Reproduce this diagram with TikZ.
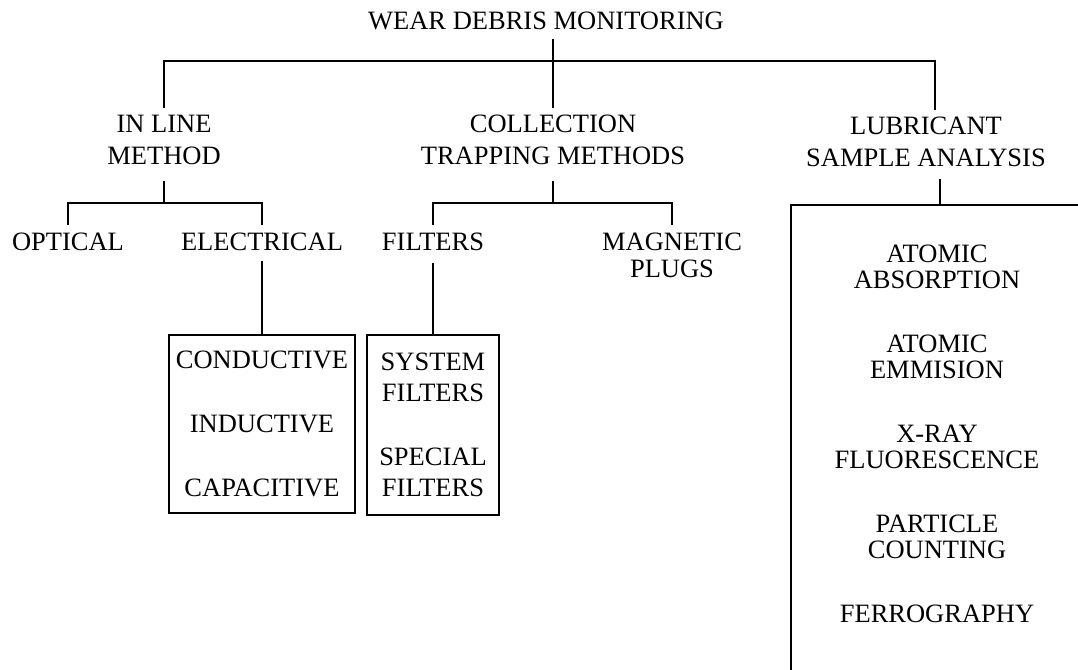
\documentclass[tikz,border=0pt]{standalone}
\usepackage{fontspec}
\setmainfont{Liberation Serif}
\begin{document}
\begin{tikzpicture}[x=1pt,y=-1pt,line width=2.8pt,
  lbl/.style={inner sep=0pt,outer sep=0pt,anchor=north,align=center,font=\fontsize{26.5}{32}\selectfont},
  boxnode/.style={draw,line width=2.8pt,inner sep=0pt,outer sep=0pt,anchor=north,align=center}]
\useasboundingbox (0,0) rectangle (1078,669);
% nodes
\node[lbl] (title) at (546,12) {WEAR DEBRIS MONITORING};
\node[lbl] (inline) at (164,115) {IN LINE\\METHOD};
\node[lbl] (collect) at (553,115) {COLLECTION\\TRAPPING METHODS};
\node[lbl] (lubric) at (926,117) {LUBRICANT\\SAMPLE ANALYSIS};
\node[lbl,font=\fontsize{26.5}{27}\selectfont] (optical) at (68,233) {OPTICAL};
\node[lbl,font=\fontsize{26.5}{27}\selectfont] (electrical) at (262,233) {ELECTRICAL};
\node[lbl,font=\fontsize{26.5}{27}\selectfont] (filters) at (433,233) {FILTERS};
\node[lbl,font=\fontsize{26.5}{27}\selectfont] (magnetic) at (672,233) {MAGNETIC\\PLUGS};
\node[boxnode,minimum width=186pt,minimum height=178pt,font=\fontsize{26.5}{64}\selectfont] (box1) at (262,335) {CONDUCTIVE\\INDUCTIVE\\CAPACITIVE};
\node[boxnode,minimum width=132pt,minimum height=180pt,font=\fontsize{26.5}{31}\selectfont] (box2) at (433,335) {SYSTEM\\FILTERS\\[33pt]SPECIAL\\FILTERS};
\node[lbl,font=\fontsize{26.5}{25.5}\selectfont] (analyses) at (937,245) {ATOMIC\\ABSORPTION\\[39pt]ATOMIC\\EMMISION\\[39pt]X-RAY\\FLUORESCENCE\\[39pt]PARTICLE\\COUNTING\\[39pt]FERROGRAPHY};
% coordinates
\coordinate (bus0) at (0,61);
\coordinate (bus1) at (0,203);
\coordinate (rtl) at (791,205);
\coordinate (rbl) at (791,672);
\coordinate (rtr) at (1080,205);
\coordinate (t0) at ([yshift=-9pt]title.south);
\coordinate (lu) at ([xshift=9pt,yshift=7pt]lubric.north);
\coordinate (ld) at ([xshift=14pt,yshift=-12pt]lubric.south);
\coordinate (ed) at ([yshift=-10pt]electrical.south);
\coordinate (fd) at ([yshift=-12pt]filters.south);
% connectors
\draw (t0 -| collect.north) -- ([yshift=7pt]collect.north);
\draw ([yshift=7pt]inline.north) -- (inline.north |- bus0) -- (lu |- bus0) -- (lu);
\draw ([yshift=-16pt]inline.south) -- (inline.south |- bus1);
\draw ([yshift=8pt]optical.north) -- (optical.north |- bus1) -- (electrical.north |- bus1) -- ([yshift=8pt]electrical.north);
\draw ([yshift=-16pt]collect.south) -- (collect.south |- bus1);
\draw ([yshift=8pt]filters.north) -- (filters.north |- bus1) -- (magnetic.north |- bus1) -- ([yshift=8pt]magnetic.north);
\draw (box1.north |- ed) -- (box1.north);
\draw (box2.north |- fd) -- (box2.north);
\draw (ld) -- (ld |- rtl);
\draw (rbl) -- (rtl) -- (rtr);
\end{tikzpicture}
\end{document}
